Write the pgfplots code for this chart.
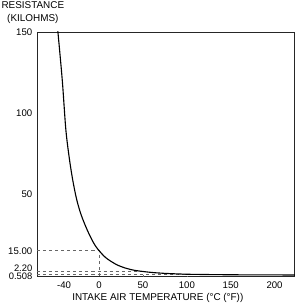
\documentclass[border=0pt]{standalone}
\usepackage{fontspec}
\setmainfont{Liberation Sans}
\usepackage{pgfplots}
\pgfplotsset{compat=1.18}
\begin{document}
\begin{tikzpicture}
\begin{axis}[
  name=ax,
  scale only axis,
  width=255pt, height=242pt,
  xmin=-71, xmax=223,
  ymin=-1, ymax=150,
  xtick={-40,0,50,100,150,200},
  ytick={15,50,100,150},
  yticklabels={15.00,50,100,150},
  major tick length=0pt,
  tick label style={font=\fontsize{9.5}{11}\selectfont},
  /pgf/number format/assume math mode=true,
  xticklabel style={yshift=-2pt},
  yticklabel style={xshift=-1pt},
  axis line style={line width=0.7pt, black!85},
  xlabel={INTAKE AIR TEMPERATURE (°C (°F))},
  xlabel style={font=\fontsize{9.8}{11}\selectfont, at={(rel axis cs:0.469,0)}, anchor=north, yshift=-13pt},
  clip=true,
]
\addplot[black!60, dashed, line width=0.5pt] coordinates {(-71,15) (0,15) (0,-1)};
\addplot[black!60, dashed, line width=0.5pt] coordinates {(-71,2.2) (50,2.2) (50,-1)};
\addplot[black!60, dashed, line width=0.5pt] coordinates {(-71,0.508) (100,0.508) (100,-1)};
\addplot[black, line width=1.1pt, smooth] coordinates {
(-47.5,152) (-47,150) (-42,120) (-38,90) (-34,72) (-30,58.3) (-26,47.5) (-22,39.6)
(-18,33.5) (-13,27.1) (-8,21.5) (-4,17.8) (0,15) (5,12) (10,9.7) (20,6.4)
(30,4.3) (40,2.95) (50,2.2) (60,1.6) (70,1.2) (80,0.9) (100,0.508) (120,0.34)
(150,0.18) (180,0.11) (223,0.05)};
\coordinate (p22) at (axis cs:-71,2.2);
\coordinate (p05) at (axis cs:-71,0.508);
\end{axis}
\node[anchor=east, inner sep=0pt, font=\fontsize{9.3}{11}\selectfont] at ([xshift=-4.3pt, yshift=3pt]p22) {2.20};
\node[anchor=east, inner sep=0pt, font=\fontsize{9.3}{11}\selectfont] at ([xshift=-4.3pt, yshift=-2.2pt]p05) {0.508};
\node[anchor=south, align=center, font=\fontsize{9.8}{12.5}\selectfont, inner sep=1.5pt]
  at ([xshift=-4pt, yshift=7pt]ax.north west) {RESISTANCE\\(KILOHMS)};
\end{tikzpicture}
\end{document}
